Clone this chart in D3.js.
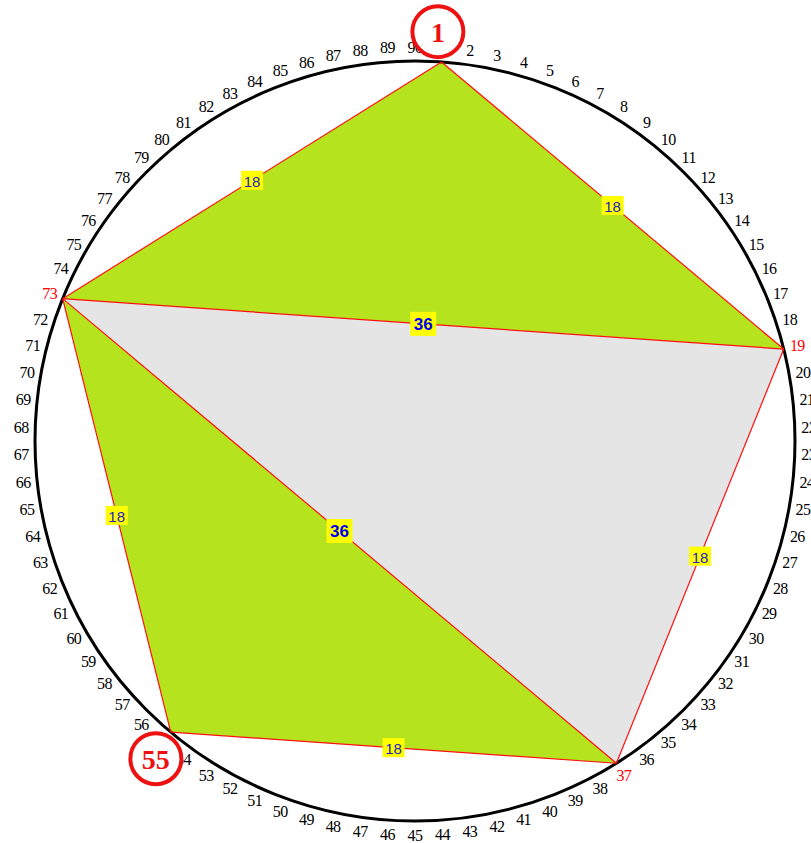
<!DOCTYPE html>
<html>
<head>
<meta charset="utf-8">
<script src="https://cdn.jsdelivr.net/npm/d3@7"></script>
<style>
  html, body { margin: 0; padding: 0; background: #fff; overflow: hidden; }
  svg { display: block; }
</style>
</head>
<body>
<main></main>
<script>
// positions round the circle
const ticks = [1,2,3,4,5,6,7,8,9,10,11,12,13,14,15,16,17,18,19,20,
  21,22,23,24,25,26,27,28,29,30,31,32,33,34,35,36,37,38,39,40,
  41,42,43,44,45,46,47,48,49,50,51,52,53,54,55,56,57,58,59,60,
  61,62,63,64,65,66,67,68,69,70,71,72,73,74,75,76,77,78,79,80,
  81,82,83,84,85,86,87,88,89,90];

// the five corners of the pentagon
const vertices = [1, 19, 37, 55, 73];
const redLabels = [19, 37, 73];
const circled = [1, 55];

// triangles: corners + fill kind
const triangles = [
  {pts: [1, 19, 73], kind: "green"},
  {pts: [73, 19, 37], kind: "gray"},
  {pts: [73, 37, 55], kind: "green"}
];

// edges with the step count written on them
const edges = [
  {a: 1, b: 19, n: 18},
  {a: 19, b: 37, n: 18},
  {a: 37, b: 55, n: 18},
  {a: 55, b: 73, n: 18},
  {a: 73, b: 1, n: 18},
  {a: 73, b: 19, n: 36},
  {a: 73, b: 37, n: 36}
];

const width = 811, height = 843;
const cx = 415, cy = 441, r = 380;
const labelR = 394, markR = 410;

const fills = {green: "#b5e31e", gray: "#e5e5e5"};

const svg = d3.select("main")
  .append("svg")
  .attr("width", width)
  .attr("height", height);

// angle of a position, 90 positions on the full turn
const angle = d3.scaleLinear().domain([0, 90]).range([0, 2 * Math.PI]);

function pt(k, rad) {
  const a = angle(k);
  return [cx + rad * Math.sin(a), cy - rad * Math.cos(a)];
}

// triangles
svg.selectAll("polygon.tri")
  .data(triangles)
  .enter()
  .append("polygon")
  .attr("class", "tri")
  .attr("points", d => d.pts.map(k => pt(k, r).join(",")).join(" "))
  .style("fill", d => fills[d.kind])
  .style("stroke", "none");

// outer circle
svg.append("circle")
  .attr("cx", cx)
  .attr("cy", cy)
  .attr("r", r)
  .style("fill", "none")
  .style("stroke", "#000")
  .style("stroke-width", 3);

// red edges
svg.selectAll("line.edge")
  .data(edges)
  .enter()
  .append("line")
  .attr("class", "edge")
  .attr("x1", d => pt(d.a, r)[0])
  .attr("y1", d => pt(d.a, r)[1])
  .attr("x2", d => pt(d.b, r)[0])
  .attr("y2", d => pt(d.b, r)[1])
  .style("stroke", "#ff1010")
  .style("stroke-width", 1.2);

// yellow labels on the edges
const tags = svg.selectAll("g.tag")
  .data(edges)
  .enter()
  .append("g")
  .attr("class", "tag")
  .attr("transform", d => {
    const p = pt(d.a, r), q = pt(d.b, r);
    return "translate(" + (p[0] + q[0]) / 2 + "," + (p[1] + q[1]) / 2 + ")";
  });

tags.append("rect")
  .attr("x", d => d.n === 36 ? -13 : -11)
  .attr("y", d => d.n === 36 ? -12 : -9.5)
  .attr("width", d => d.n === 36 ? 26 : 22)
  .attr("height", d => d.n === 36 ? 24 : 19)
  .style("fill", "#ffff00");

tags.append("text")
  .attr("text-anchor", "middle")
  .attr("dominant-baseline", "central")
  .attr("y", 1)
  .attr("font-family", d => d.n === 36 ? "'Liberation Sans', Arial, sans-serif" : "'Liberation Sans Narrow', 'Liberation Sans', Arial, sans-serif")
  .attr("font-size", d => d.n === 36 ? "17px" : "15px")
  .attr("font-weight", d => d.n === 36 ? "bold" : "normal")
  .attr("fill", d => d.n === 36 ? "#0000ee" : "#2323c8")
  .text(d => d.n);

// number labels round the circle
svg.selectAll("text.tick")
  .data(ticks.filter(k => circled.indexOf(k) < 0))
  .enter()
  .append("text")
  .attr("class", "tick")
  .attr("x", d => pt(d, labelR)[0])
  .attr("y", d => pt(d, labelR)[1])
  .attr("text-anchor", "middle")
  .attr("dominant-baseline", "central")
  .attr("font-family", "'Liberation Serif', 'Times New Roman', serif")
  .attr("font-size", "16px")
  .attr("letter-spacing", "-0.6px")
  .attr("fill", d => redLabels.indexOf(d) >= 0 ? "#ff0000" : "#000")
  .text(d => d);

// big red rings on the marked positions, nudged a little back
const marks = svg.selectAll("g.mark")
  .data(circled)
  .enter()
  .append("g")
  .attr("class", "mark")
  .attr("transform", d => "translate(" + pt(d - 0.2, markR)[0] + "," + pt(d - 0.2, markR)[1] + ")");

marks.append("circle")
  .attr("r", 25.5)
  .style("fill", "#fff")
  .style("stroke", "#ee1111")
  .style("stroke-width", 4);

marks.append("text")
  .attr("text-anchor", "middle")
  .attr("dominant-baseline", "central")
  .attr("y", 1)
  .attr("font-family", "'Liberation Serif', 'Times New Roman', serif")
  .attr("font-size", "28px")
  .attr("font-weight", "bold")
  .attr("fill", "#ee1111")
  .text(d => d);
</script>
</body>
</html>
